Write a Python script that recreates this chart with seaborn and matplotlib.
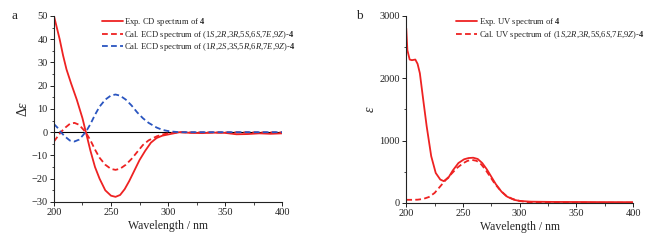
import matplotlib
matplotlib.use("Agg")
import matplotlib.pyplot as plt
import numpy as np
import pandas as pd
import seaborn as sns
from matplotlib.ticker import MultipleLocator

# panel a: CD / ECD (wavelength nm, delta epsilon)
cd_wl = [200, 202, 205, 208, 211, 215, 220, 225, 228, 232, 236, 240, 245, 250,
         254, 258, 262, 266, 270, 275, 280, 285, 290, 295, 300, 305, 310, 320,
         330, 340, 350, 360, 370, 380, 390, 400]
cd_exp = [50, 46, 40, 33, 27, 21, 14, 6, 0, -8, -15, -20, -25, -27.3,
          -27.8, -27, -24.5, -21, -17, -12, -8, -4.5, -2.5, -1.5, -1, -0.5, 0, -0.3,
          -0.4, -0.2, -0.3, -0.9, -0.8, -0.5, -0.7, -0.5]

ecd_wl = [200, 203, 206, 210, 214, 218, 222, 226, 229, 232, 236, 240, 245, 250,
          254, 258, 263, 268, 273, 278, 283, 290, 295, 300, 305, 310, 320, 340,
          360, 380, 400]
ecd_1s = [-4, -2, 0, 2, 3.6, 4, 3.2, 1, -1, -3.5, -7.5, -11, -14, -15.8,
          -16.2, -15.7, -14, -11.5, -8.5, -5.5, -3.5, -1.8, -1, -0.5, -0.2, 0, -0.1, -0.1,
          -0.1, -0.1, -0.1]
ecd_1r = [3.5, 2, 0, -2, -3.6, -4, -3.2, -1, 1, 3.5, 7.5, 11, 14, 15.8,
          16.2, 15.7, 14, 11.5, 8.5, 6, 4, 2, 1, 0.5, 0.2, 0, 0, 0,
          0, 0, 0]

# panel b: UV (wavelength nm, epsilon)
uv_wl = [200, 201, 203, 205, 208, 210, 212, 215, 218, 222, 226, 230, 233, 237,
         241, 246, 251, 255, 259, 263, 267, 271, 275, 279, 284, 289, 295, 300,
         310, 330, 350, 375, 400]
uv_exp = [2800, 2450, 2300, 2290, 2300, 2230, 2080, 1650, 1230, 750, 480, 375, 350, 400,
          520, 640, 700, 720, 725, 705, 640, 540, 420, 300, 180, 100, 50, 32,
          20, 16, 15, 13, 12]
uv_cal_wl = [200, 205, 210, 215, 220, 225, 230, 235, 240, 245, 250, 254, 258, 262,
             266, 270, 274, 278, 283, 288, 293, 298, 305, 310, 320, 350, 400]
uv_cal = [50, 50, 52, 64, 95, 160, 266, 373, 470, 565, 635, 675, 690, 675,
          620, 530, 420, 310, 200, 115, 70, 40, 15, 6, 3, 3, 3]

RED = "#ee2222"
BLUE = "#2a55c0"

sns.set_style("ticks")
plt.rcParams["font.family"] = ["Liberation Serif", "DejaVu Serif"]
plt.rcParams["mathtext.fontset"] = "custom"
plt.rcParams["mathtext.rm"] = "Liberation Serif"
plt.rcParams["mathtext.it"] = "Liberation Serif:italic"
plt.rcParams["mathtext.bf"] = "Liberation Serif:bold"

fig = plt.figure(figsize=(6.5, 2.41), dpi=100)
ax1 = fig.add_axes([0.083, 0.162, 0.351, 0.772])
ax2 = fig.add_axes([0.625, 0.158, 0.349, 0.776])

dash = (0, (3.2, 1.8))


def conf(s):
    return ",".join(f"{c[0]}$\\mathit{{{c[1]}}}$" for c in s.split(","))


lab_exp_cd = r"Exp. CD spectrum of $\mathbf{4}$"
lab_1s = "Cal. ECD spectrum of (" + conf("1S,2R,3R,5S,6S,7E,9Z") + r")-$\mathbf{4}$"
lab_1r = "Cal. ECD spectrum of (" + conf("1R,2S,3S,5R,6R,7E,9Z") + r")-$\mathbf{4}$"
lab_exp_uv = r"Exp. UV spectrum of $\mathbf{4}$"
lab_cal_uv = "Cal. UV spectrum of (" + conf("1S,2R,3R,5S,6S,7E,9Z") + r")-$\mathbf{4}$"

ax1.axhline(0, color="black", lw=0.8, zorder=1)
sns.lineplot(x=cd_wl, y=cd_exp, ax=ax1, color=RED, lw=1.3, label=lab_exp_cd)
sns.lineplot(x=ecd_wl, y=ecd_1s, ax=ax1, color=RED, lw=1.3, linestyle=dash, label=lab_1s)
sns.lineplot(x=ecd_wl, y=ecd_1r, ax=ax1, color=BLUE, lw=1.3, linestyle=dash, label=lab_1r)

sns.lineplot(x=uv_wl, y=uv_exp, ax=ax2, color=RED, lw=1.3, label=lab_exp_uv)
sns.lineplot(x=uv_cal_wl, y=uv_cal, ax=ax2, color=RED, lw=1.3, linestyle=dash, label=lab_cal_uv)

ax1.set_xlim(200, 400)
ax1.set_ylim(-30, 50)
ax1.yaxis.set_major_locator(MultipleLocator(10))
ax1.yaxis.set_minor_locator(MultipleLocator(5))
ax1.set_ylabel(r"$\Delta\varepsilon$", fontsize=10, labelpad=1)

ax2.set_xlim(200, 400)
ax2.set_ylim(0, 3000)
ax2.yaxis.set_major_locator(MultipleLocator(1000))
ax2.yaxis.set_minor_locator(MultipleLocator(500))
ax2.set_ylabel(r"$\varepsilon$", fontsize=10, labelpad=2)

for ax in (ax1, ax2):
    ax.xaxis.set_major_locator(MultipleLocator(50))
    ax.xaxis.set_minor_locator(MultipleLocator(25))
    ax.set_xlabel("Wavelength / nm", fontsize=8.5, labelpad=2)
    ax.tick_params(which="major", length=3, width=0.7, labelsize=7.5, pad=1.5, colors="#222222")
    ax.tick_params(which="minor", length=1.8, width=0.6)
    for s in ("left", "bottom"):
        ax.spines[s].set_linewidth(0.8)
        ax.spines[s].set_color("#222222")
    ax.legend(loc="upper left", frameon=False, fontsize=6.2, handlelength=2.4,
              handletextpad=0.2, labelspacing=0.08, borderpad=0, borderaxespad=0)
sns.despine(fig=fig)

ax1.legend_.set_bbox_to_anchor((0.21, 1.0))
ax2.legend_.set_bbox_to_anchor((0.22, 1.0))

fig.text(0.018, 0.935, "a", fontsize=9.5, va="center")
fig.text(0.548, 0.935, "b", fontsize=9.5, va="center")

fig.savefig("out.png", dpi=100)
